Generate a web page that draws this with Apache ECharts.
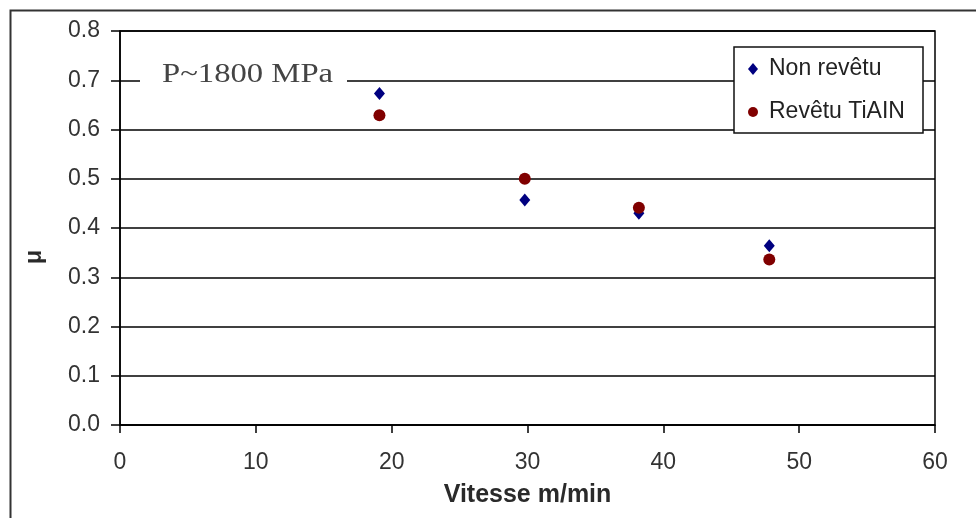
<!DOCTYPE html>
<html>
<head>
<meta charset="utf-8">
<script src="https://cdn.jsdelivr.net/npm/echarts@6/dist/echarts.min.js"></script>
<style>
  html, body { margin: 0; padding: 0; background: #fff; }
  #chart { width: 976px; height: 518px; }
</style>
</head>
<body>
<div id="chart"></div>
<script>
// Friction coefficient vs. cutting speed, uncoated vs. TiAlN-coated tool
const seriesNames = ['Non revêtu', 'Revêtu TiAIN'];
const speedUncoated = [19.1, 29.8, 38.2, 47.8];
const muUncoated = [0.673, 0.457, 0.430, 0.364];
const speedCoated = [19.1, 29.8, 38.2, 47.8];
const muCoated = [0.629, 0.500, 0.441, 0.336];
const xAxisTitle = 'Vitesse m/min';
const yAxisTitle = 'μ';
const noteText = 'P~1800 MPa';

const chart = echarts.init(document.getElementById('chart'), null, { renderer: 'canvas' });

const font = 'Liberation Sans, Arial, sans-serif';

chart.setOption({
  animation: false,
  backgroundColor: '#fff',
  grid: {
    left: 120, right: 41, top: 31, bottom: 93,
    show: true, borderColor: '#000', borderWidth: 1.5, backgroundColor: 'transparent'
  },
  xAxis: {
    type: 'value', min: 0, max: 60, interval: 10,
    name: xAxisTitle, nameLocation: 'middle', nameGap: 58,
    nameTextStyle: { fontFamily: font, fontWeight: 'bold', fontSize: 25, color: '#2a2a2a' },
    axisLine: { show: true, lineStyle: { color: '#000', width: 1.5 } },
    axisTick: { show: true, inside: false, length: 8, lineStyle: { color: '#000', width: 1.5 } },
    axisLabel: { fontFamily: font, fontSize: 23, color: '#333', margin: 26 },
    splitLine: { show: false }
  },
  yAxis: {
    type: 'value', min: 0, max: 0.8, interval: 0.1,
    name: yAxisTitle, nameLocation: 'middle', nameGap: 74, nameRotate: 90,
    nameTextStyle: { fontFamily: font, fontWeight: 'bold', fontSize: 23, color: '#2a2a2a',
      padding: [0, 58, 0, 0] },
    axisLine: { show: true, lineStyle: { color: '#000', width: 1.5 } },
    axisTick: { show: true, inside: false, length: 9, lineStyle: { color: '#000', width: 1.5 } },
    axisLabel: { fontFamily: font, fontSize: 23, color: '#333', margin: 20,
      formatter: v => v.toFixed(1) },
    splitLine: { show: true, lineStyle: { color: '#000', width: 1.5 } }
  },
  legend: {
    orient: 'vertical', left: 734, top: 47,
    padding: [10, 10, 9, 14],
    backgroundColor: '#fff', borderColor: '#111', borderWidth: 1.5,
    itemWidth: 10, itemHeight: 12, itemGap: 19,
    textStyle: { fontFamily: font, fontSize: 23, color: '#222', lineHeight: 24, width: 144, padding: [0, 0, 0, 6] },
    data: [
      { name: seriesNames[0], icon: 'diamond', itemStyle: { opacity: 1 } },
      { name: seriesNames[1], icon: 'circle', itemStyle: { opacity: 1 } }
    ],
    z: 10
  },
  graphic: [
    { type: 'rect', left: 8, top: 8, z: -1, silent: true,
      shape: { width: 1000, height: 600 },
      style: { fill: 'none', stroke: '#333', lineWidth: 2 } },
    { type: 'rect', left: 140, top: 71, z: 5, silent: true,
      shape: { width: 207, height: 18 },
      style: { fill: '#fff' } },
    { type: 'text', x: 162, y: 61, scaleX: 1.21, z: 6, silent: true,
      style: { text: noteText, font: '27px "Liberation Serif", "Times New Roman", serif', fill: '#444' } }
  ],
  series: [
    {
      name: seriesNames[0], type: 'scatter', symbol: 'diamond', symbolSize: [11, 13],
      itemStyle: { color: '#000080', opacity: 1 }, z: 3,
      data: speedUncoated.map((x, i) => [x, muUncoated[i]])
    },
    {
      name: seriesNames[1], type: 'scatter', symbol: 'circle', symbolSize: 12,
      itemStyle: { color: '#800000', opacity: 1 }, z: 4,
      data: speedCoated.map((x, i) => [x, muCoated[i]])
    }
  ]
});
</script>
</body>
</html>
